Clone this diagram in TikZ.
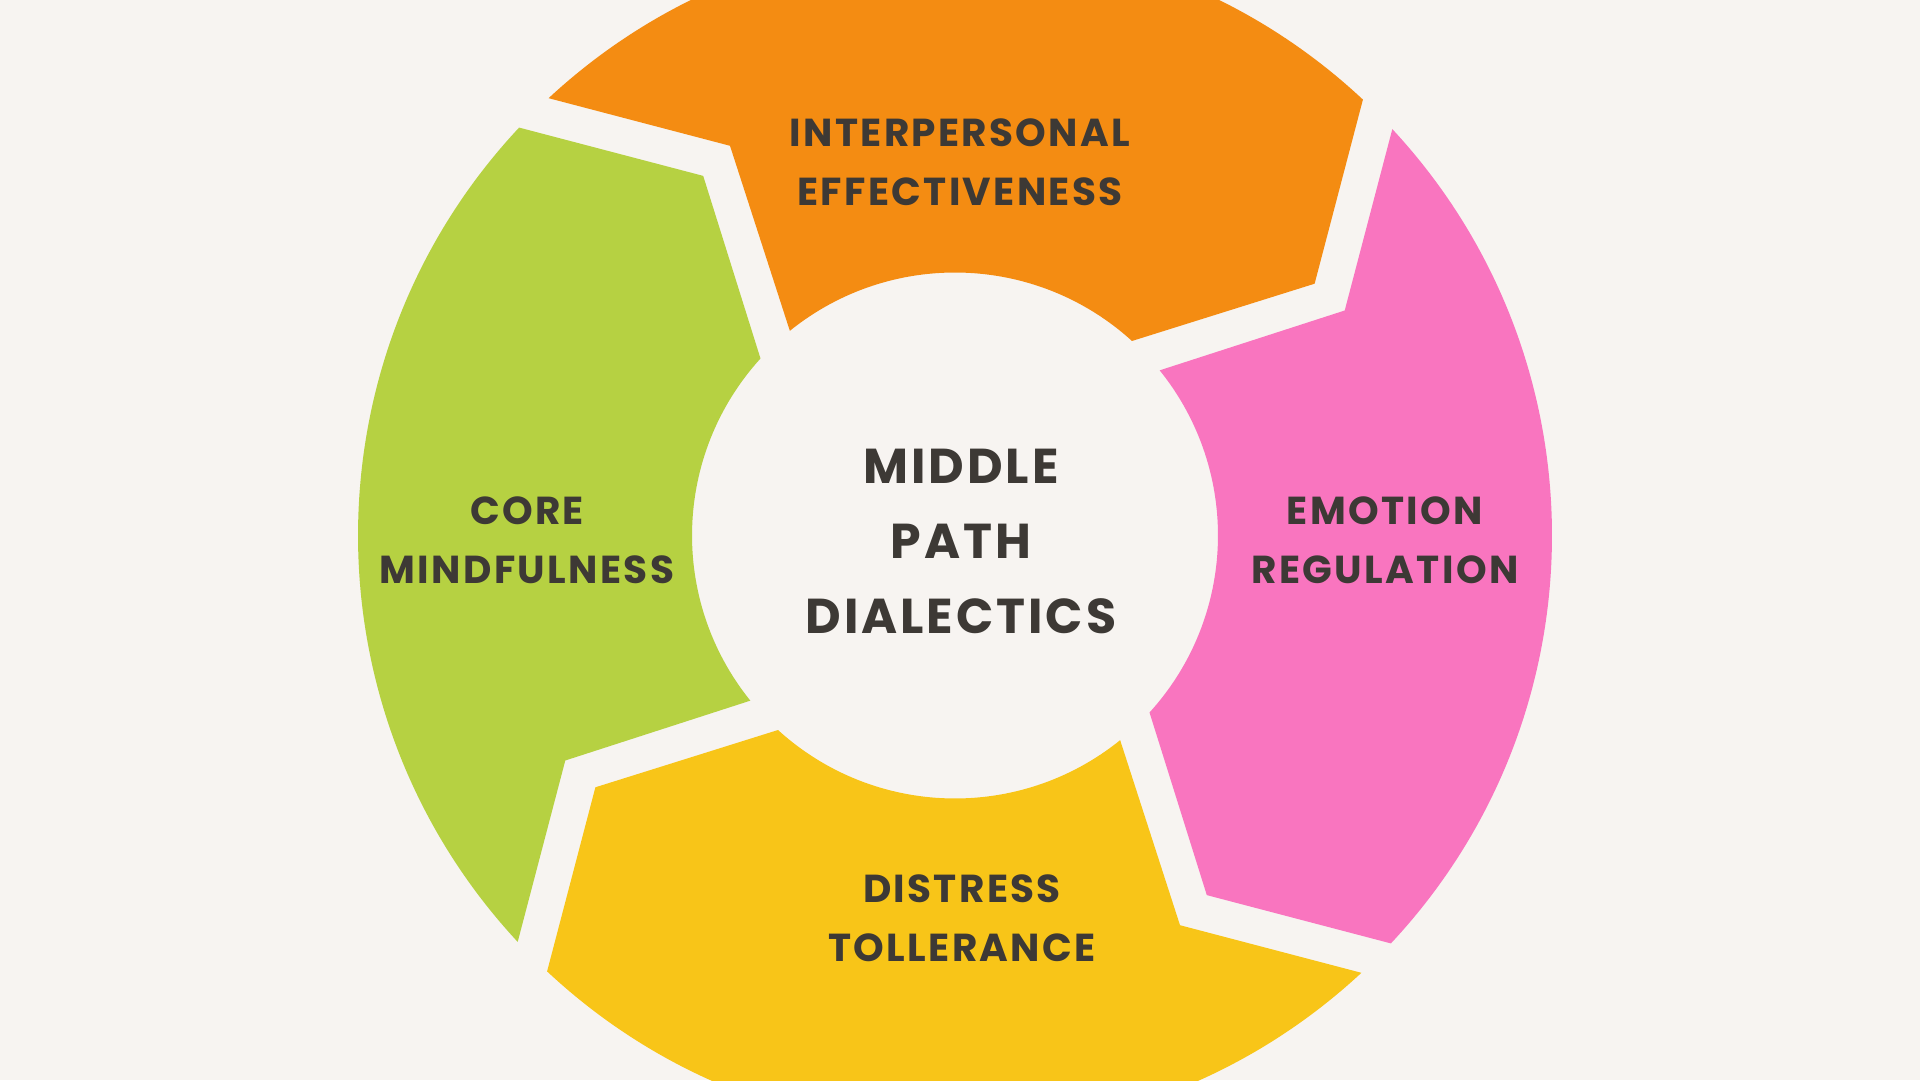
\documentclass[tikz,border=0pt]{standalone}
\usepackage{fontspec}
\setmainfont{Poppins}
\newfontfamily\labfont{Poppins}[LetterSpace=6]
\definecolor{bgc}{HTML}{F7F4F1}
\definecolor{orangec}{HTML}{F48C12}
\definecolor{pinkc}{HTML}{F975BF}
\definecolor{greenc}{HTML}{B6D142}
\definecolor{yellowc}{HTML}{F8C518}
\definecolor{txtc}{HTML}{3D3935}
% #1 = centre angle of the segment, #2 = colour
\newcommand\dbtseg[2]{%
  \fill[#2] ($(ctr)+(#1+42.9:597)$) arc[start angle=#1+42.9, end angle=#1-43.1, radius=597pt]
    -- ($(ctr)+(#1-55:439)$) -- ($(ctr)+(#1-42.3:263)$)
    arc[start angle=#1-42.3, end angle=#1+38.9, radius=263pt]
    -- ($(ctr)+(#1+30:450)$) -- cycle;}
\usetikzlibrary{calc}
\tikzset{
  lab/.style={font=\labfont\bfseries\fontsize{39}{59}\selectfont, text=txtc, align=center, anchor=base, inner sep=0pt},
  bigl/.style={font=\labfont\bfseries\fontsize{49}{75}\selectfont, text=txtc, align=center, anchor=base, inner sep=0pt}
}
\begin{document}
\begin{tikzpicture}[x=1pt,y=1pt]
\useasboundingbox (0,0) rectangle (1920,1080);
\clip (0,0) rectangle (1920,1080);
\fill[bgc] (0,0) rectangle (1920,1080);
\coordinate (ctr) at (955,544.5);
\dbtseg{90}{orangec}
\dbtseg{0}{pinkc}
\dbtseg{-90}{yellowc}
\dbtseg{180}{greenc}
\node[lab] (ie) at (960,874) {INTERPERSONAL\\EFFECTIVENESS};
\node[lab] (er) at (1385,496) {EMOTION\\REGULATION};
\node[lab] (cm) at (527,496) {CORE\\MINDFULNESS};
\node[lab] (dt) at (962,119) {DISTRESS\\TOLLERANCE};
\node[bigl] (mpd) at (961,446.7) {MIDDLE\\PATH\\DIALECTICS};
\end{tikzpicture}
\end{document}
